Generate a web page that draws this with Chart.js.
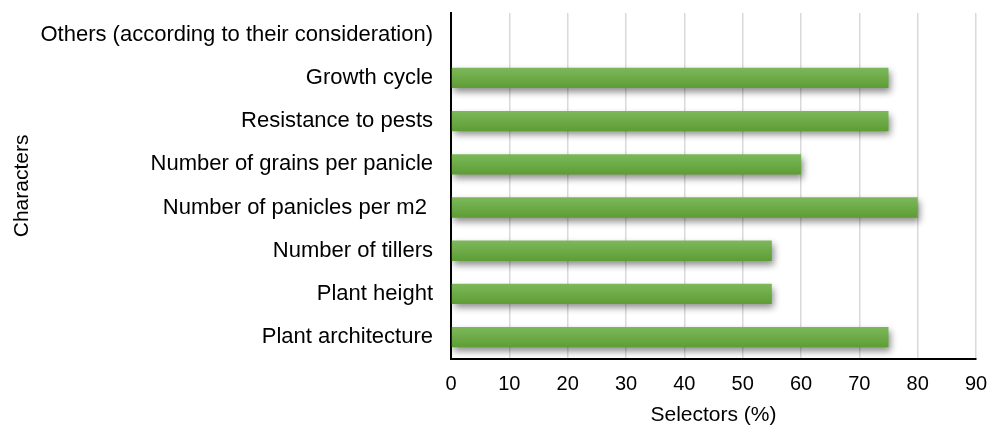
<!DOCTYPE html>
<html>
<head>
<meta charset="utf-8">
<script src="https://cdn.jsdelivr.net/npm/chart.js@4"></script>
<style>
  html, body { margin: 0; padding: 0; background: #fff; }
  #wrap { width: 988px; height: 428px; }
</style>
</head>
<body>
<div id="wrap"><canvas id="chart" width="988" height="428"></canvas></div>
<script>
Chart.defaults.font.family = '"Liberation Sans", Arial, sans-serif';
Chart.defaults.font.size = 21;
Chart.defaults.color = '#000';

const characters = [
  'Others (according to their consideration)',
  'Growth cycle',
  'Resistance to pests',
  'Number of grains per panicle',
  'Number of panicles per m2 ',
  'Number of tillers',
  'Plant height',
  'Plant architecture'
];
const selectors = [0, 75, 75, 60, 80, 55, 55, 75];
const xTicks = [0, 10, 20, 30, 40, 50, 60, 70, 80, 90];

// soft drop shadow under the bars
const barShadow = {
  id: 'barShadow',
  beforeDatasetDraw(chart) {
    const c = chart.ctx;
    c.save();
    c.shadowColor = 'rgba(0,0,0,0.45)';
    c.shadowBlur = 7;
    c.shadowOffsetX = 2;
    c.shadowOffsetY = 4;
  },
  afterDatasetDraw(chart) {
    chart.ctx.restore();
  }
};

function barFill(ctx) {
  const chart = ctx.chart;
  const y = chart.scales.y;
  if (!y || !chart.chartArea) return '#70ad47';
  const mid = y.getPixelForValue(ctx.dataIndex);
  const g = chart.ctx.createLinearGradient(0, mid - 10, 0, mid + 10);
  g.addColorStop(0, '#7cb85a');
  g.addColorStop(1, '#5e9d35');
  return g;
}

new Chart(document.getElementById('chart'), {
  type: 'bar',
  data: {
    labels: characters,
    datasets: [{
      data: selectors,
      backgroundColor: barFill,
      borderWidth: 0,
      barPercentage: 0.47,
      categoryPercentage: 1
    }]
  },
  plugins: [barShadow],
  options: {
    indexAxis: 'y',
    responsive: false,
    animation: false,
    layout: { padding: { top: 13, right: 12, left: 6, bottom: 0 } },
    plugins: { legend: { display: false }, tooltip: { enabled: false } },
    scales: {
      x: {
        min: 0,
        max: 90,
        afterBuildTicks(axis) { axis.ticks = xTicks.map(v => ({ value: v })); },
        afterFit(axis) { axis.paddingLeft = 0; axis.paddingRight = 0; },
        ticks: { padding: 14, font: { size: 20 } },
        grid: { color: '#d9d9d9', lineWidth: 1.5, drawTicks: false },
        border: { color: '#000', width: 2 },
        title: { display: true, text: 'Selectors (%)', font: { size: 21 }, padding: { top: -8, bottom: 0 } }
      },
      y: {
        afterFit(axis) { axis.width = 445; axis.paddingTop = 0; axis.paddingBottom = 0; },
        ticks: { padding: 18, font: { size: 22 } },
        grid: { display: false, drawTicks: false },
        border: { color: '#000', width: 2 },
        title: { display: true, text: 'Characters', font: { size: 21 }, padding: { bottom: 0 } }
      }
    }
  }
});
</script>
</body>
</html>
